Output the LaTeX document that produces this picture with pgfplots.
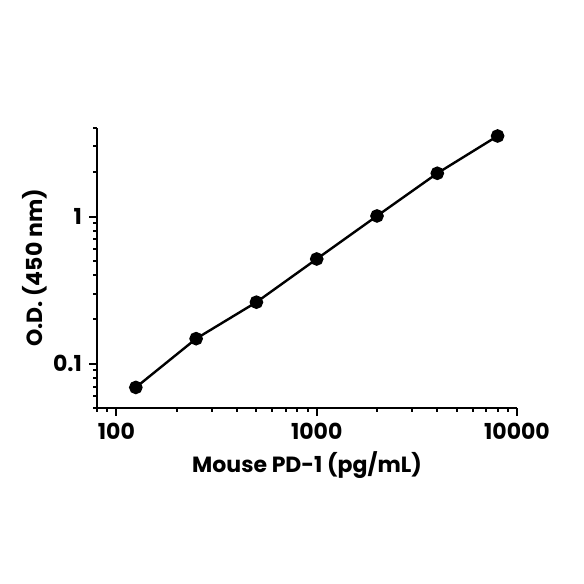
\documentclass[border=0pt]{standalone}
\usepackage{fontspec}
\setmainfont{Poppins}
\usepackage{pgfplots}
\pgfplotsset{compat=1.18}
\begin{document}
\begin{tikzpicture}
% page is 584 x 584 px, 1 px = 0.5 pt; axis box lower-left sits at (97,408) px
\useasboundingbox (-48.5pt,-88pt) rectangle (243.5pt,204pt);
\begin{axis}[
scale only axis,
width=210pt, height=140pt,
xmode=log, ymode=log,
xmin=80, xmax=10000,
ymin=0.05, ymax=4,
axis x line*=bottom,
axis y line*=left,
axis line style={line width=1.1pt},
tick align=outside,
major tick length=4pt,
minor tick length=2pt,
every tick/.style={line width=1pt, black},
xtick={100,1000,10000},
xticklabels={100,1000,10000},
ytick={0.1,1},
yticklabels={0.1,1},
minor xtick={80,90,200,300,400,500,600,700,800,900,2000,3000,4000,5000,6000,7000,8000,9000},
minor ytick={0.05,0.06,0.07,0.08,0.09,0.2,0.3,0.4,0.5,0.6,0.7,0.8,0.9,2,3,4},
/pgf/number format/assume math mode=true,
ticklabel style={font=\fontsize{11}{13}\selectfont\bfseries},
xlabel={Mouse PD-1 (pg/mL)},
ylabel={O.D. (450 nm)},
label style={font=\fontsize{11}{13}\selectfont\bfseries},
xlabel style={yshift=1pt},
ylabel style={yshift=-4pt},
clip=false,
]
\addplot [black, line width=1.2pt, mark=*, mark size=2.8pt] coordinates {
(125,0.069) (250,0.148) (500,0.262) (1000,0.515) (2000,1.01) (4000,1.97) (8000,3.53)};
\end{axis}
\end{tikzpicture}
\end{document}
